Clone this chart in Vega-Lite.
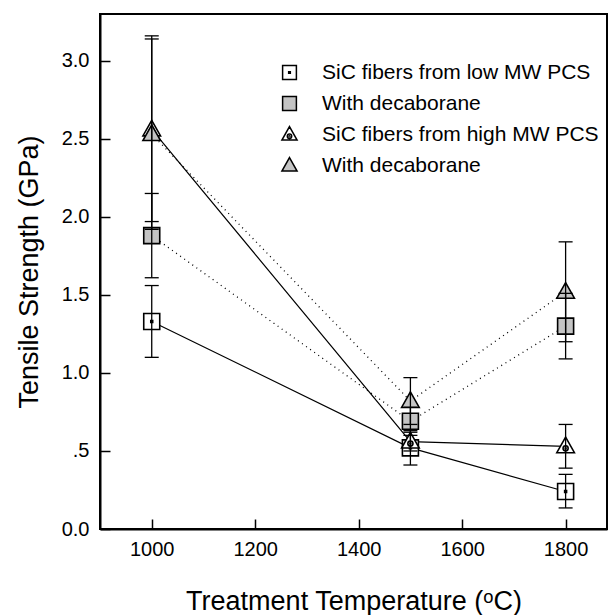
{
  "$schema": "https://vega.github.io/schema/vega-lite/v6.json",
  "width": 507,
  "height": 515,
  "autosize": {"type": "none"},
  "padding": {"left": 100, "top": 14, "right": 2, "bottom": 86},
  "background": "white",
  "config": {
    "font": "Liberation Sans",
    "view": {"stroke": "black", "strokeWidth": 2},
    "legend": {"disable": false}
  },
  "data": {
    "values": [
      {"temp": 1000, "series": "low", "ts": 1.33, "lo": 1.10, "hi": 1.56},
      {"temp": 1500, "series": "low", "ts": 0.52, "lo": 0.41, "hi": 0.63},
      {"temp": 1800, "series": "low", "ts": 0.24, "lo": 0.135, "hi": 0.35},
      {"temp": 1000, "series": "lowB", "ts": 1.88, "lo": 1.61, "hi": 2.15},
      {"temp": 1500, "series": "lowB", "ts": 0.69, "lo": 0.60, "hi": 0.78},
      {"temp": 1800, "series": "lowB", "ts": 1.30, "lo": 1.09, "hi": 1.51},
      {"temp": 1000, "series": "high", "ts": 2.56, "lo": 1.97, "hi": 3.16},
      {"temp": 1500, "series": "high", "ts": 0.56, "lo": 0.50, "hi": 0.62},
      {"temp": 1800, "series": "high", "ts": 0.53, "lo": 0.39, "hi": 0.67},
      {"temp": 1000, "series": "highB", "ts": 2.53, "lo": 1.92, "hi": 3.14},
      {"temp": 1500, "series": "highB", "ts": 0.82, "lo": 0.67, "hi": 0.97},
      {"temp": 1800, "series": "highB", "ts": 1.52, "lo": 1.20, "hi": 1.84}
    ]
  },
  "encoding": {
    "x": {
      "field": "temp",
      "type": "quantitative",
      "scale": {"domain": [900, 1880], "nice": false, "zero": false},
      "axis": {
        "values": [1000, 1200, 1400, 1600, 1800],
        "format": "d",
        "grid": false,
        "domainColor": "black",
        "domainWidth": 2,
        "tickColor": "black",
        "tickWidth": 1.5,
        "tickSize": -10,
        "labelColor": "black",
        "labelFontSize": 20,
        "labelPadding": 20,
        "title": "Treatment Temperature (ᵒC)",
        "titleColor": "black",
        "titleFontWeight": "normal",
        "titleFontSize": 27,
        "titlePadding": 29
      }
    }
  },
  "layer": [
    {
      "transform": [{"filter": "datum.series == 'low' || datum.series == 'high'"}],
      "mark": {"type": "line", "color": "black", "strokeWidth": 1.2},
      "encoding": {
        "y": {"field": "ts", "type": "quantitative"},
        "detail": {"field": "series"}
      }
    },
    {
      "transform": [{"filter": "datum.series == 'lowB' || datum.series == 'highB'"}],
      "mark": {"type": "line", "color": "black", "strokeWidth": 1.3, "strokeDash": [1, 4]},
      "encoding": {
        "y": {"field": "ts", "type": "quantitative"},
        "detail": {"field": "series"}
      }
    },
    {
      "mark": {"type": "point", "filled": true, "stroke": "black", "strokeWidth": 1.6, "size": 256, "opacity": 1},
      "encoding": {
        "y": {
          "field": "ts",
          "type": "quantitative",
          "scale": {"domain": [0, 3.3], "nice": false},
          "axis": {
            "values": [0, 0.5, 1, 1.5, 2, 2.5, 3],
            "labelExpr": "datum.value == 0 ? '0.0' : (datum.value == 0.5 ? '.5' : format(datum.value, '.1f'))",
            "grid": false,
            "domainColor": "black",
            "domainWidth": 2,
            "tickColor": "black",
            "tickWidth": 1.5,
            "tickSize": -10,
            "labelColor": "black",
            "labelFontSize": 20,
            "labelPadding": 21,
            "title": "Tensile Strength (GPa)",
            "titleColor": "black",
            "titleFontWeight": "normal",
            "titleFontSize": 27,
            "titlePadding": 18
          }
        },
        "shape": {
          "field": "series",
          "type": "nominal",
          "scale": {
            "domain": ["low", "lowB", "high", "highB"],
            "range": [
              "M-1,-1H1V1H-1ZM-0.12,-0.12H0.12V0.12H-0.12Z",
              "M-1,-1H1V1H-1Z",
              "M0,-1.15L1.1,0.8L-1.1,0.8ZM0.32,0.25A0.32,0.32 0 1 1 -0.32,0.25A0.32,0.32 0 1 1 0.32,0.25ZM0.06,0.25A0.06,0.06 0 1 1 -0.06,0.25A0.06,0.06 0 1 1 0.06,0.25Z",
              "M0,-1.15L1.1,0.8L-1.1,0.8Z"
            ]
          },
          "legend": {
            "title": null,
            "orient": "none",
            "legendX": 179,
            "legendY": 48,
            "labelFontSize": 21,
            "labelColor": "black",
            "labelLimit": 400,
            "labelOffset": 22,
            "rowPadding": 9,
            "symbolSize": 190,
            "encode": {
              "symbols": {
                "update": {
                  "stroke": {"value": "black"},
                  "strokeWidth": {"value": 1.8},
                  "opacity": {"value": 1}
                }
              }
            },
            "labelExpr": "datum.value == 'low' ? 'SiC fibers from low MW PCS' : (datum.value == 'high' ? 'SiC fibers from high MW PCS' : 'With decaborane')"
          }
        },
        "fill": {
          "field": "series",
          "type": "nominal",
          "scale": {"domain": ["low", "lowB", "high", "highB"], "range": ["white", "#c4c4c4", "white", "#c4c4c4"]},
          "legend": {
            "title": null,
            "orient": "none",
            "legendX": 179,
            "legendY": 48,
            "labelFontSize": 21,
            "labelColor": "black",
            "labelLimit": 400,
            "labelOffset": 22,
            "rowPadding": 9,
            "symbolSize": 190,
            "encode": {
              "symbols": {
                "update": {
                  "stroke": {"value": "black"},
                  "strokeWidth": {"value": 1.8},
                  "opacity": {"value": 1}
                }
              }
            },
            "labelExpr": "datum.value == 'low' ? 'SiC fibers from low MW PCS' : (datum.value == 'high' ? 'SiC fibers from high MW PCS' : 'With decaborane')"
          }
        }
      }
    },
    {
      "mark": {"type": "rule", "color": "black", "strokeWidth": 1.3},
      "encoding": {
        "y": {"field": "lo", "type": "quantitative"},
        "y2": {"field": "hi"}
      }
    },
    {
      "mark": {"type": "tick", "orient": "horizontal", "color": "black", "size": 14, "thickness": 1.3, "opacity": 1},
      "encoding": {"y": {"field": "lo", "type": "quantitative"}}
    },
    {
      "mark": {"type": "tick", "orient": "horizontal", "color": "black", "size": 14, "thickness": 1.3, "opacity": 1},
      "encoding": {"y": {"field": "hi", "type": "quantitative"}}
    }
  ]
}
